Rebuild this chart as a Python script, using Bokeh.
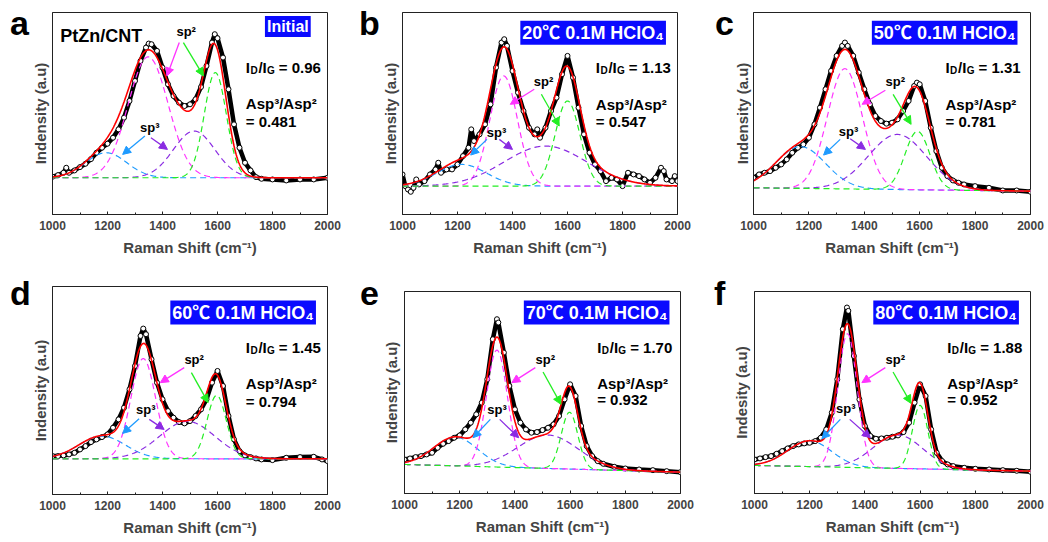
import numpy as np
from bokeh.plotting import figure
from bokeh.layouts import column, row
from bokeh.models import Range1d, Label, Arrow, NormalHead, FixedTicker, Div
from bokeh.embed import file_html
from bokeh.resources import INLINE

# ---------------- data (arbitrary intensity units) -------------
letters = ["a", "b", "c", "d", "e", "f"]
titles = ["Initial", "20\u2103 0.1M HClO\u2084", "50\u2103 0.1M HClO\u2084",
          "60\u2103 0.1M HClO\u2084", "70\u2103 0.1M HClO\u2084", "80\u2103 0.1M HClO\u2084"]
id_ig = ["0.96", "1.13", "1.31", "1.45", "1.70", "1.88"]
asp_ratio = ["0.481", "0.547", "0.781", "0.794", "0.932", "0.952"]
y_titles = ["Indensity (a.u)"] * 5 + ["Indesity (a.u)"]
x_ticks = [1000, 1200, 1400, 1600, 1800, 2000]
x_minor = [1100, 1300, 1500, 1700, 1900]

a_shift = [1000, 1020, 1040, 1050, 1060, 1080, 1100, 1120, 1140, 1160, 1180, 1200, 1220, 1240, 1260, 1280,
           1300, 1320, 1340, 1350, 1360, 1380, 1400, 1420, 1440, 1460, 1480, 1500, 1520, 1540, 1560, 1580,
           1590, 1600, 1620, 1640, 1660, 1680, 1700, 1720, 1740, 1760, 1800, 1850, 1900, 1950, 2000]
a_int = [113, 118, 125, 140, 125, 132, 142, 152, 166, 185, 200, 212, 230, 255, 290, 340,
         400, 460, 500, 512, 510, 490, 440, 390, 355, 335, 325, 330, 345, 382, 445, 515,
         540, 528, 470, 375, 270, 200, 155, 132, 112, 107, 105, 102, 105, 105, 110]

b_shift = [1000, 1010, 1020, 1030, 1040, 1050, 1060, 1080, 1100, 1120, 1130, 1140, 1160, 1180, 1200, 1220,
           1240, 1250, 1260, 1280, 1300, 1320, 1340, 1360, 1370, 1380, 1400, 1420, 1440, 1460, 1480, 1490,
           1500, 1520, 1540, 1560, 1580, 1600, 1620, 1640, 1660, 1680, 1700, 1720, 1740, 1760, 1780, 1800,
           1820, 1840, 1860, 1880, 1900, 1920, 1940, 1950, 1960, 1980, 1990, 2000]
b_int = [120, 85, 75, 68, 80, 105, 90, 100, 120, 135, 155, 125, 135, 135, 150, 175,
         200, 255, 220, 240, 270, 330, 440, 515, 525, 505, 430, 365, 310, 260, 240, 255,
         230, 260, 310, 350, 420, 475, 410, 320, 240, 185, 150, 130, 100, 110, 105, 85,
         125, 120, 115, 105, 95, 110, 140, 130, 105, 100, 115, 100]

c_shift = [1000, 1020, 1040, 1060, 1080, 1100, 1120, 1140, 1160, 1180, 1200, 1220, 1240, 1260, 1280, 1300,
           1320, 1330, 1340, 1360, 1380, 1400, 1420, 1440, 1460, 1480, 1500, 1520, 1540, 1560, 1580, 1590,
           1600, 1620, 1640, 1660, 1680, 1700, 1720, 1740, 1760, 1800, 1850, 1900, 1950, 2000]
c_int = [110, 120, 125, 130, 140, 150, 165, 185, 200, 210, 230, 270, 320, 375, 430, 475,
         505, 515, 505, 475, 425, 375, 330, 295, 280, 272, 275, 285, 310, 340, 385, 395,
         390, 340, 260, 190, 140, 115, 102, 95, 90, 85, 80, 72, 72, 68]

d_shift = [1000, 1020, 1040, 1060, 1080, 1100, 1120, 1140, 1160, 1180, 1200, 1220, 1240, 1260, 1280, 1300,
           1320, 1330, 1340, 1360, 1380, 1400, 1420, 1440, 1460, 1480, 1500, 1520, 1540, 1560, 1580, 1600,
           1620, 1640, 1660, 1680, 1700, 1720, 1740, 1760, 1800, 1850, 1900, 1950, 1980, 2000]
d_int = [115, 115, 117, 120, 125, 135, 145, 157, 165, 172, 180, 200, 225, 260, 315, 385,
         475, 497, 480, 405, 335, 285, 250, 230, 217, 213, 220, 235, 255, 285, 335, 370,
         325, 235, 165, 130, 117, 112, 108, 105, 103, 110, 112, 113, 105, 100]

e_shift = [1000, 1020, 1040, 1060, 1080, 1100, 1120, 1140, 1160, 1180, 1200, 1220, 1240, 1260, 1280, 1300,
           1320, 1335, 1340, 1360, 1380, 1400, 1420, 1440, 1460, 1480, 1500, 1520, 1540, 1560, 1580, 1600,
           1620, 1640, 1660, 1680, 1700, 1720, 1760, 1800, 1850, 1900, 1950, 2000]
e_int = [102, 105, 109, 112, 117, 122, 137, 149, 157, 167, 174, 192, 212, 237, 272, 342,
         462, 522, 512, 422, 322, 252, 212, 192, 182, 184, 190, 197, 207, 232, 282, 327,
         292, 202, 142, 112, 97, 89, 80, 75, 72, 70, 67, 64]

f_shift = [1000, 1020, 1040, 1060, 1080, 1100, 1120, 1140, 1160, 1180, 1200, 1220, 1240, 1260, 1280, 1300,
           1320, 1335, 1340, 1360, 1380, 1400, 1420, 1440, 1460, 1480, 1500, 1520, 1540, 1560, 1580, 1600,
           1620, 1640, 1660, 1680, 1700, 1720, 1760, 1800, 1850, 1900, 1950, 2000]
f_int = [102, 105, 109, 112, 119, 127, 135, 142, 147, 150, 152, 157, 167, 192, 242, 342,
         492, 557, 547, 412, 282, 202, 172, 164, 165, 167, 170, 174, 184, 212, 272, 327,
         292, 192, 122, 97, 87, 82, 77, 74, 72, 70, 68, 65]

# fitted components: [sp3 (~1200), D sp2 (~1340), sp3 (~1510), G sp2 (~1595)]
a_center = [1195, 1348, 1515, 1592]; a_height = [75, 362, 140, 315]; a_sigma = [75, 73, 75, 40]; a_base = [110, 110]
b_center = [1215, 1368, 1520, 1600]; b_height = [65, 330, 120, 255]; b_sigma = [90, 50, 150, 45]; b_base = [85, 85]
c_center = [1170, 1330, 1520, 1592]; c_height = [125, 360, 165, 175]; c_sigma = [90, 63, 105, 45]; c_base = [80, 70]
d_center = [1180, 1330, 1490, 1597]; d_height = [68, 300, 112, 190]; d_sigma = [85, 45, 100, 35]; d_base = [107, 107]
e_center = [1185, 1335, 1520, 1598]; e_height = [86, 350, 100, 170]; e_sigma = [80, 38, 110, 30]; e_base = [87, 64]
f_center = [1200, 1337, 1520, 1600]; f_height = [77, 400, 100, 190]; f_sigma = [80, 35, 90, 28]; f_base = [84, 67]

shifts = [a_shift, b_shift, c_shift, d_shift, e_shift, f_shift]
ints = [a_int, b_int, c_int, d_int, e_int, f_int]
centers = [a_center, b_center, c_center, d_center, e_center, f_center]
heights = [a_height, b_height, c_height, d_height, e_height, f_height]
sigmas = [a_sigma, b_sigma, c_sigma, d_sigma, e_sigma, f_sigma]
bases = [a_base, b_base, c_base, d_base, e_base, f_base]

# ---------------- layout / styling --------------------------------------------------
FONT = "'Liberation Sans', Arial, 'Noto Sans CJK SC'"
COMP_COLORS = ["#1e9bff", "#ff33ff", "#8a2be2", "#22ee22"]
BOX_BLUE = "#0a0aff"
LETTER_COL = 37      # width of the letter column
FIG_START = 26       # x where each figure starts inside its panel (overlaps the letter column)

# figure width, height, borders, y-label standoff, y span, letter css pad (left, top)
LAYOUT = [
    dict(w=324, h=272, l=26, r=23, t=12, b=58, s=4, span=605, pad=(10, 6)),
    dict(w=324, h=272, l=26, r=23, t=12, b=58, s=4, span=605, pad=(9, 6)),
    dict(w=322, h=272, l=27, r=18, t=12, b=58, s=3, span=605, pad=(15, 6)),
    dict(w=324, h=270, l=26, r=23, t=14, b=48, s=4, span=623, pad=(10, 4)),
    dict(w=324, h=270, l=28, r=20, t=19, b=49, s=5, span=605, pad=(10, 4)),
    dict(w=322, h=270, l=28, r=18, t=19, b=49, s=5, span=605, pad=(14, 4)),
]
# annotation positions in data units
ANNOT = [
    dict(title=(1939, 563), tfs="16px", txt_x=1703, txt_y=(440, 331, 278),
         sp2=(1486, 548), sp2_m=((1461, 515), (1416, 415)), sp2_g=((1476, 515), (1549, 415)),
         sp3=(1354, 262), sp3_b=((1336, 235), (1255, 180)), sp3_p=((1358, 230), (1418, 195))),
    dict(title=(1958, 544), tfs="18px", txt_x=1703, txt_y=(440, 329, 278),
         sp2=(1513, 397), sp2_m=((1479, 375), (1392, 330)), sp2_g=((1505, 360), (1570, 265)),
         sp3=(1342, 245), sp3_b=((1307, 225), (1248, 178)), sp3_p=((1352, 225), (1400, 195))),
    dict(title=(1953, 544), tfs="18px", txt_x=1693, txt_y=(440, 329, 278),
         sp2=(1512, 397), sp2_m=((1476, 372), (1392, 330)), sp2_g=((1504, 360), (1569, 270)),
         sp3=(1343, 250), sp3_b=((1313, 225), (1253, 178)), sp3_p=((1349, 227), (1404, 195))),
    dict(title=(1958, 545), tfs="18px", txt_x=1703, txt_y=(440, 332, 280),
         sp2=(1515, 403), sp2_m=((1479, 380), (1392, 335)), sp2_g=((1505, 365), (1566, 275)),
         sp3=(1339, 255), sp3_b=((1315, 227), (1255, 183)), sp3_p=((1352, 225), (1406, 195))),
    dict(title=(1960, 542), tfs="18px", txt_x=1698, txt_y=(437, 329, 282),
         sp2=(1510, 400), sp2_m=((1474, 377), (1389, 332)), sp2_g=((1502, 364), (1567, 267)),
         sp3=(1335, 252), sp3_b=((1311, 222), (1248, 167)), sp3_p=((1345, 222), (1414, 167))),
    dict(title=(1958, 542), tfs="18px", txt_x=1698, txt_y=(437, 329, 282),
         sp2=(1510, 400), sp2_m=((1474, 377), (1389, 332)), sp2_g=((1502, 364), (1567, 270)),
         sp3=(1331, 254), sp3_b=((1311, 222), (1244, 164)), sp3_p=((1345, 222), (1420, 167))),
]


def label(p, x, y, text, size="15px", bold=True, color="black", xo=0, yo=0, align="left",
          baseline="alphabetic", **kw):
    lab = Label(x=x, y=y, x_offset=xo, y_offset=yo, text=text, text_font=FONT,
                text_font_size=size, text_font_style="bold" if bold else "normal",
                text_color=color, text_align=align, text_baseline=baseline, **kw)
    p.add_layout(lab)
    return lab


def arrow(p, start, end, color):
    p.add_layout(Arrow(x_start=start[0], y_start=start[1], x_end=end[0], y_end=end[1],
                       line_color=color, line_width=1.3,
                       end=NormalHead(size=8, fill_color=color, line_color=color, line_width=1)))


def make_panel(i):
    L = LAYOUT[i]
    A = ANNOT[i]
    p = figure(width=L["w"], height=L["h"], min_border_left=L["l"], min_border_right=L["r"],
               min_border_top=L["t"], min_border_bottom=L["b"],
               x_range=Range1d(1000, 2000), y_range=Range1d(0, L["span"]),
               output_backend="svg", toolbar_location=None, tools="",
               margin=(0, 0, 0, FIG_START - LETTER_COL))
    p.background_fill_color = "white"
    p.border_fill_color = None
    p.outline_line_color = "#222222"
    p.outline_line_width = 1
    p.xgrid.visible = False
    p.ygrid.visible = False

    xa = p.xaxis[0]
    xa.ticker = FixedTicker(ticks=x_ticks, minor_ticks=x_minor)
    xa.axis_label = "Raman Shift (cm\u207b\u00b9)"
    xa.axis_label_text_font = FONT
    xa.axis_label_text_font_size = "15px"
    xa.axis_label_text_font_style = "bold"
    xa.axis_label_standoff = 6
    xa.major_label_text_font = FONT
    xa.major_label_text_font_size = "12px"
    xa.major_label_text_font_style = "bold"
    xa.major_label_standoff = 6
    xa.major_tick_in = 3
    xa.major_tick_out = 0
    xa.minor_tick_in = 2
    xa.minor_tick_out = 0
    xa.axis_line_color = "#222222"
    xa.major_tick_line_color = "#222222"
    xa.minor_tick_line_color = "#222222"

    ya = p.yaxis[0]
    ya.ticker = FixedTicker(ticks=[])
    ya.axis_label = y_titles[i]
    ya.axis_label_text_font = FONT
    ya.axis_label_text_font_size = "15px"
    ya.axis_label_text_font_style = "bold"
    ya.axis_label_standoff = L["s"]
    ya.major_tick_out = 0
    ya.minor_tick_out = 0
    ya.axis_line_color = "#222222"

    # measured spectrum
    xs, ys = shifts[i], ints[i]
    p.line(xs, ys, line_color="black", line_width=4.5)
    p.scatter(xs, ys, marker="circle", size=5, fill_color="white", line_color="black", line_width=1)

    # fitted components
    xg = np.arange(1000, 2001, 2)
    b0, b1 = bases[i]
    base = b0 + (b1 - b0) * (xg - 1000) / 1000.0
    total = base.copy()
    for c, h, s, col in zip(centers[i], heights[i], sigmas[i], COMP_COLORS):
        peak = h * np.exp(-(xg - c) ** 2 / (2.0 * s ** 2))
        total = total + peak
        p.line(xg, base + peak, line_color=col, line_width=1.2, line_dash="6 4")
    p.line(xg, total, line_color="#ff0000", line_width=1.6)

    if i == 0:
        label(p, 1028, 535, "PtZn/CNT", size="18px", bold=True)
    label(p, A["title"][0], A["title"][1], titles[i], size=A["tfs"], color="white", align="right",
          baseline="middle", background_fill_color=BOX_BLUE, padding=2)

    tx = A["txt_x"]
    y1, y2, y3 = A["txt_y"]
    label(p, tx, y1, "I", size="15px")
    label(p, tx, y1, "D", size="10px", xo=4.6, yo=-3)
    label(p, tx, y1, "/I", size="15px", xo=12.6)
    label(p, tx, y1, "G", size="10px", xo=21.2, yo=-3)
    label(p, tx, y1, "= " + id_ig[i], size="15px", xo=33.0)
    label(p, tx, y2, "Asp\u00b3/Asp\u00b2", size="15px")
    label(p, tx, y3, "= " + asp_ratio[i], size="15px")

    label(p, A["sp2"][0], A["sp2"][1], "sp\u00b2", size="13px", align="center", baseline="middle")
    label(p, A["sp3"][0], A["sp3"][1], "sp\u00b3", size="13px", align="center", baseline="middle")
    arrow(p, A["sp2_m"][0], A["sp2_m"][1], COMP_COLORS[1])
    arrow(p, A["sp2_g"][0], A["sp2_g"][1], COMP_COLORS[3])
    arrow(p, A["sp3_b"][0], A["sp3_b"][1], COMP_COLORS[0])
    arrow(p, A["sp3_p"][0], A["sp3_p"][1], COMP_COLORS[2])

    # panel letter in a narrow column to the left of the figure
    pl, pt = L["pad"]
    html = ('<div style="margin:0;padding:%dpx 0 0 %dpx;font-family:\'Liberation Sans\',Arial,sans-serif;'
            'font-weight:bold;font-size:34px;line-height:34px;color:black;">%s</div>' % (pt, pl, letters[i]))
    letter_div = Div(text=html, width=LETTER_COL, height=L["h"], margin=(0, 0, 0, 0))
    return row(letter_div, p, spacing=0)


panels = [make_panel(i) for i in range(6)]
layout = column(row(panels[0], panels[1], panels[2], spacing=0),
                row(panels[3], panels[4], panels[5], spacing=0), spacing=0)

open("out.html", "w").write(file_html(layout, INLINE))
